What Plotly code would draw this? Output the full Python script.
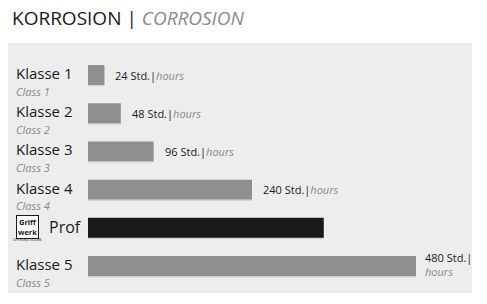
import plotly.graph_objects as go

categories = ["Klasse 1", "Klasse 2", "Klasse 3", "Klasse 4", "Prof", "Klasse 5"]
subtitles = ["Class 1", "Class 2", "Class 3", "Class 4", "", "Class 5"]
hours = [24, 48, 96, 240, 345, 480]
value_labels = ["24 Std.", "48 Std.", "96 Std.", "240 Std.", "", "480 Std."]
colors = ["#8f8f91", "#8f8f91", "#8f8f91", "#8f8f91", "#1b1819", "#8f8f91"]

W, H = 487, 304
FONT = "Open Sans"

fig = go.Figure()
# subtle shadow
fig.add_trace(go.Bar(
    y=categories, x=hours, orientation="h", width=0.52,
    marker=dict(color="rgba(0,0,0,0.10)", line=dict(width=0)),
    offset=-0.22, hoverinfo="skip", showlegend=False,
))
fig.add_trace(go.Bar(
    y=categories, x=hours, orientation="h", width=0.52,
    marker=dict(color=colors, line=dict(width=0)),
    offset=-0.26, showlegend=False,
))

ann = []
# title
ann.append(dict(x=10 / W, y=1 - 18 / H, xref="paper", yref="paper", xanchor="left", yanchor="middle",
                showarrow=False,
                text="KORROSION | <i><span style='color:#8a8a8a'>CORROSION</span></i>",
                font=dict(family=FONT, size=19, color="#1a1a1a")))

for cat, sub, v, lab in zip(categories, subtitles, hours, value_labels):
    if cat == "Prof":
        ann.append(dict(x=47 / W, y=cat, xref="paper", yref="y", xanchor="left", yanchor="middle",
                        showarrow=False, text="Prof", yshift=1,
                        font=dict(family=FONT, size=16, color="#1a1a1a")))
        ann.append(dict(x=27.5 / W, y=cat, xref="paper", yref="y", xanchor="center", yanchor="middle",
                        showarrow=False, text="<b>Griff<br>werk</b>", yshift=1,
                        font=dict(family=FONT, size=7.5, color="#1a1a1a"),
                        bordercolor="#1a1a1a", borderwidth=1, borderpad=1, bgcolor="#ffffff"))
        ann.append(dict(x=27.5 / W, y=cat, xref="paper", yref="y", xanchor="center", yanchor="middle",
                        showarrow=False, text="OPENING DOORS", yshift=-12,
                        font=dict(family=FONT, size=3.5, color="#1a1a1a")))
        continue
    ann.append(dict(x=14 / W, y=cat, xref="paper", yref="y", xanchor="left", yanchor="middle",
                    showarrow=False, text=cat, yshift=2,
                    font=dict(family=FONT, size=15, color="#1a1a1a")))
    ann.append(dict(x=14 / W, y=cat, xref="paper", yref="y", xanchor="left", yanchor="middle",
                    showarrow=False, text="<i>" + sub + "</i>", yshift=-16,
                    font=dict(family=FONT, size=11, color="#8a8a8a")))
    if cat == "Klasse 5":
        ann.append(dict(x=v, y=cat, xref="x", yref="y", xanchor="left", yanchor="middle",
                        showarrow=False, xshift=7, yshift=2, align="left",
                        text=lab + "|<br><i><span style='color:#8a8a8a'>hours</span></i>",
                        font=dict(family=FONT, size=11, color="#1a1a1a")))
    else:
        ann.append(dict(x=v, y=cat, xref="x", yref="y", xanchor="left", yanchor="middle",
                        showarrow=False, xshift=9,
                        text=lab + "|<i><span style='color:#8a8a8a'>hours</span></i>",
                        font=dict(family=FONT, size=11, color="#1a1a1a")))

# x axis: value 0 at pixel 88, value 480 at pixel 416
scale = (416 - 88) / 480
x0 = -88 / scale
x1 = (W - 88) / scale
# y axis: category index 0 at pixel 75, spacing 38.2
sp = 38.2
ytop = -75 / sp
ybot = (H - 75) / sp

fig.update_layout(
    width=W, height=H,
    margin=dict(l=0, r=0, t=0, b=0),
    paper_bgcolor="#ffffff", plot_bgcolor="rgba(0,0,0,0)",
    barmode="overlay",
    xaxis=dict(range=[x0, x1], visible=False, fixedrange=True),
    yaxis=dict(range=[ybot, ytop], visible=False, type="category",
               categoryorder="array", categoryarray=categories, fixedrange=True),
    annotations=ann,
    shapes=[dict(type="rect", xref="paper", yref="paper", x0=8 / W, x1=472 / W,
                 y0=1 - 293 / H, y1=1 - 43 / H, fillcolor="#ededed", line=dict(width=0), layer="below")],
    showlegend=False,
)
fig.write_html("out.html")
